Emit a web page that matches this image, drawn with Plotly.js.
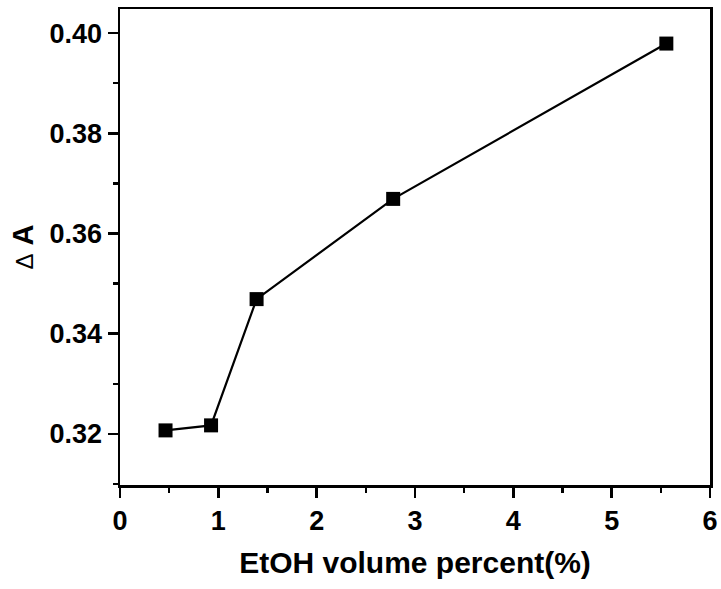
<!DOCTYPE html>
<html><head><meta charset="utf-8">
<script src="https://cdn.plot.ly/plotly-3.0.1.min.js"></script>
<style>body{margin:0;background:#fff}#c{width:721px;height:589px}</style>
</head><body><div id="c"></div>
<script>
const etohPercent = [0.463, 0.926, 1.389, 2.778, 5.556];
const deltaA = [0.3207, 0.3217, 0.3469, 0.3669, 0.3979];
const xTicks = [0, 1, 2, 3, 4, 5, 6];
const yTicks = [0.32, 0.34, 0.36, 0.38, 0.40];
const yTickLabels = ["0.32", "0.34", "0.36", "0.38", "0.40"];

const F = "Liberation Sans, Arial, sans-serif";
const trace = {
  x: etohPercent, y: deltaA, type: "scatter", mode: "lines+markers",
  line: {color: "#000", width: 2.2},
  marker: {symbol: "square", size: 14, color: "#000"},
  showlegend: false, hoverinfo: "none"
};
const layout = {
  width: 721, height: 589,
  margin: {l: 120, r: 11, t: 9, b: 104},
  paper_bgcolor: "#fff", plot_bgcolor: "#fff",
  font: {family: F, color: "#000"},
  xaxis: {
    range: [0, 6], tickvals: xTicks, ticktext: xTicks.map(String),
    ticks: "outside", ticklen: 10, tickwidth: 2.5, tickcolor: "#000",
    minor: {dtick: 0.5, ticks: "outside", ticklen: 5, tickwidth: 2.5, tickcolor: "#000"},
    showline: true, linewidth: 2.5, linecolor: "#000", mirror: true,
    showgrid: false, zeroline: false,
    tickfont: {family: F, size: 27, weight: "bold"},
    title: {text: "<b>EtOH volume percent(%)</b>", font: {family: F, size: 30}, standoff: 17}
  },
  yaxis: {
    range: [0.3098, 0.4048], tickvals: yTicks, ticktext: yTickLabels,
    ticks: "outside", ticklen: 10, tickwidth: 2.5, tickcolor: "#000",
    minor: {dtick: 0.01, ticks: "outside", ticklen: 5, tickwidth: 2.5, tickcolor: "#000"},
    showline: true, linewidth: 2.5, linecolor: "#000", mirror: true,
    showgrid: false, zeroline: false,
    tickfont: {family: F, size: 27, weight: "bold"},
    title: {text: "<span style='font-size:24px'>Δ</span> <b>A</b>", font: {family: F, size: 29}, standoff: 8}
  }
};
Plotly.newPlot("c", [trace], layout, {displayModeBar: false, staticPlot: true});
</script>
</body></html>
